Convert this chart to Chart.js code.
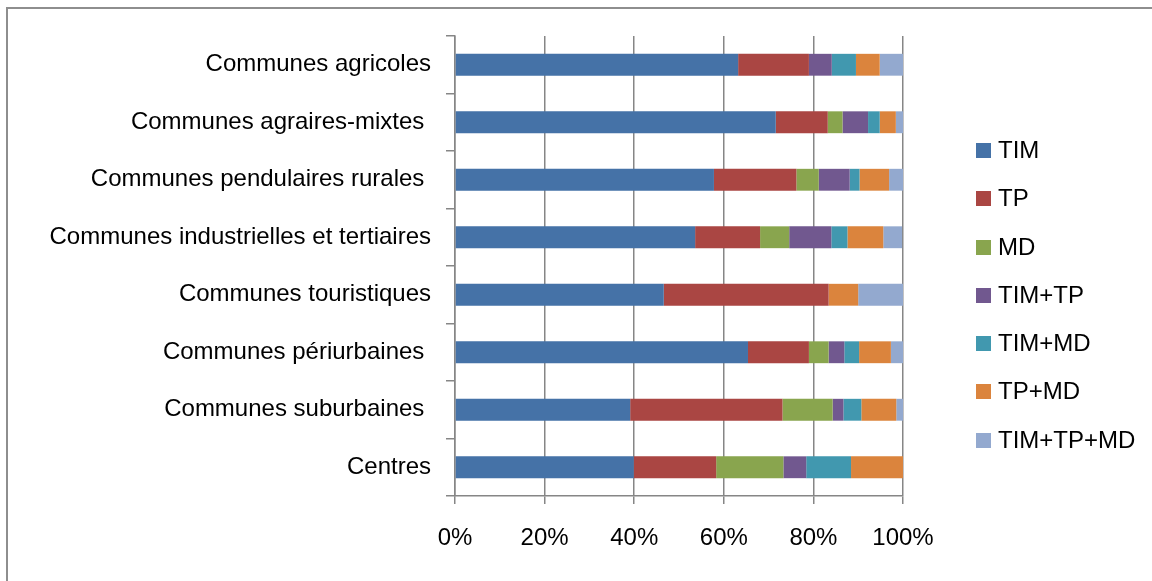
<!DOCTYPE html>
<html>
<head>
<meta charset="utf-8">
<script src="https://cdn.jsdelivr.net/npm/chart.js@4/dist/chart.umd.min.js"></script>
<style>
  html, body { margin: 0; padding: 0; background: #fff; }
  #wrap { position: relative; width: 1152px; height: 581px; overflow: hidden; }
  #frame { position: absolute; left: 6px; top: 7px; width: 1200px; height: 700px;
           border-left: 2px solid #8e8e8e; border-top: 2px solid #8e8e8e; }
  #chart { position: absolute; left: 0; top: 0; }
  #legend { position: absolute; left: 976px; top: 136px; font: 24px "Liberation Sans", Arial, sans-serif; color: #000; }
  #legend div { height: 48.3px; display: flex; align-items: flex-start; }
  #legend span.sw { display: inline-block; width: 15px; height: 15px; margin-top: 7px; margin-right: 7px; }
</style>
</head>
<body>
<div id="wrap">
  <div id="frame"></div>
  <canvas id="chart" width="1152" height="581"></canvas>
  <div id="legend"></div>
</div>
<script>
/* ── catégories (ordre du haut vers le bas) ── */
const categories = [
  'Communes agricoles',
  'Communes agraires-mixtes ',
  'Communes pendulaires rurales ',
  'Communes industrielles et tertiaires',
  'Communes touristiques',
  'Communes périurbaines ',
  'Communes suburbaines ',
  'Centres'
];

/* ── parts modales en % ── */
const tim      = [63.2, 71.6, 57.8, 53.6, 46.6, 65.4, 39.1, 39.9];
const tp       = [15.8, 11.6, 18.4, 14.5, 36.8, 13.6, 34.0, 18.4];
const md       = [ 0.0,  3.3,  5.0,  6.5,  0.0,  4.4, 11.2, 15.0];
const timTp    = [ 5.1,  5.7,  6.9,  9.4,  0.0,  3.5,  2.4,  5.1];
const timMd    = [ 5.4,  2.6,  2.2,  3.6,  0.0,  3.3,  4.0, 10.0];
const tpMd     = [ 5.3,  3.6,  6.6,  8.0,  6.6,  7.1,  7.8, 11.6];
const timTpMd  = [ 5.2,  1.6,  3.1,  4.2, 10.0,  2.7,  1.6,  0.0];

const xTicks = [0, 20, 40, 60, 80, 100];

const series = [
  { label: 'TIM',       data: tim,     color: '#4572A7' },
  { label: 'TP',        data: tp,      color: '#AA4643' },
  { label: 'MD',        data: md,      color: '#89A54E' },
  { label: 'TIM+TP',    data: timTp,   color: '#71588F' },
  { label: 'TIM+MD',    data: timMd,   color: '#4198AF' },
  { label: 'TP+MD',     data: tpMd,    color: '#DB843D' },
  { label: 'TIM+TP+MD', data: timTpMd, color: '#93A9CF' }
];

const FONT = { family: '"Liberation Sans", Arial, sans-serif', size: 24 };
const GRID = '#868686';

new Chart(document.getElementById('chart'), {
  type: 'bar',
  data: {
    labels: categories,
    datasets: series.map(s => ({
      label: s.label,
      data: s.data,
      backgroundColor: s.color,
      borderWidth: 0,
      categoryPercentage: 1,
      barPercentage: 0.38
    }))
  },
  options: {
    indexAxis: 'y',
    responsive: false,
    animation: false,
    layout: { padding: { left: 9, top: 36, right: 249, bottom: 0 } },
    plugins: { legend: { display: false }, tooltip: { enabled: false } },
    scales: {
      x: {
        stacked: true,
        min: 0, max: 100,
        afterBuildTicks: (axis) => { axis.ticks = xTicks.map(v => ({ value: v })); },
        afterFit: (axis) => { axis.height = 85; },
        ticks: { color: '#000', font: FONT, padding: 20, callback: v => v + '%' },
        grid: { color: GRID, lineWidth: 1.5, tickLength: 8 },
        border: { color: GRID, width: 1.5 }
      },
      y: {
        stacked: true,
        afterFit: (axis) => { axis.width = 446; },
        ticks: { color: '#000', font: FONT, padding: 15 },
        grid: { color: GRID, lineWidth: 1.5, drawOnChartArea: false, tickLength: 9 },
        border: { color: GRID, width: 1.5 }
      }
    }
  }
});

/* ── légende ── */
const legend = document.getElementById('legend');
series.forEach(s => {
  const row = document.createElement('div');
  row.innerHTML = `<span class="sw" style="background:${s.color}"></span><span>${s.label}</span>`;
  legend.appendChild(row);
});
</script>
</body>
</html>
